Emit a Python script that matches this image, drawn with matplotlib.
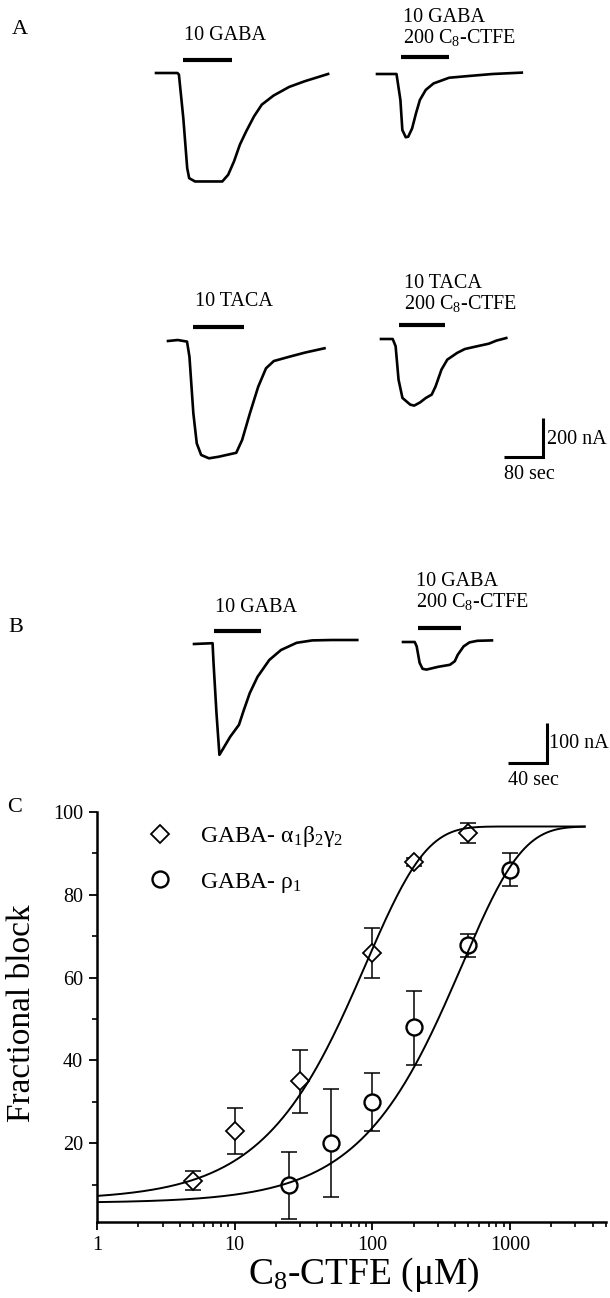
import numpy as np
import matplotlib.pyplot as plt
from matplotlib.lines import Line2D
from matplotlib.ticker import LogLocator, MultipleLocator, NullFormatter

plt.rcParams['font.family'] = ['Liberation Serif', 'DejaVu Serif']
plt.rcParams['mathtext.default'] = 'regular'

# ---- panel A traces: time (s) and current (nA) ----
a_gaba_t = [0, 44, 47, 56, 64, 68, 80, 136, 148, 160, 172, 185, 201, 217, 241, 273, 305, 353]
a_gaba_i = [0, 0, -8, -229, -484, -535, -552, -552, -518, -450, -365, -297, -221, -161, -115, -71, -42, -5]

a_gaba_ctfe_t = [0, 40, 48, 52, 59, 64, 72, 80, 88, 100, 116, 148, 189, 237, 297]
a_gaba_ctfe_i = [0, 0, -132, -285, -322, -319, -277, -200, -132, -81, -48, -19, -10, 0, 7]

a_taca_t = [0, 20, 39, 44, 52, 59, 68, 84, 104, 120, 140, 152, 168, 185, 201, 217, 249, 281, 321]
a_taca_i = [0, 5, -3, -80, -368, -521, -580, -597, -589, -580, -569, -504, -368, -233, -139, -102, -80, -59, -37]

a_taca_ctfe_t = [0, 24, 30, 36, 44, 60, 68, 80, 92, 104, 112, 124, 136, 156, 172, 197, 221, 237, 257]
a_taca_ctfe_i = [0, 0, -37, -207, -300, -334, -339, -323, -300, -283, -241, -156, -105, -71, -51, -37, -24, -8, 5]

# ---- panel B traces ----
b_gaba_t = [0, 19, 20, 23, 26, 29, 37, 46, 51, 57, 65, 77, 89, 105, 121, 141, 167]
b_gaba_i = [0, 2, -48, -173, -277, -265, -232, -202, -165, -123, -82, -40, -15, 3, 9, 10, 10]

b_gaba_ctfe_t = [0, 12, 14, 17, 20, 24, 36, 48, 53, 56, 62, 68, 76, 91]
b_gaba_ctfe_i = [0, 0, -11, -52, -67, -69, -62, -57, -48, -32, -11, -1, 3, 4]

# drug application bars: (start after trace start, duration) in s
a_bars = [(56, 100), (50, 98), (52, 104), (36, 96)]
b_bars = [(20, 49), (15, 44)]

# scale bars (s, nA)
a_scale = (80, 200)
b_scale = (40, 100)

# ---- panel C: fractional block ----
conc_ab = [5, 10, 30, 100, 200, 500]
block_ab = [11, 23, 35, 66, 88, 95]
err_ab_lo = [2.3, 5.6, 7.6, 6.0, 1.0, 2.6]
err_ab_hi = [2.3, 5.6, 7.5, 6.0, 1.0, 2.3]

conc_rho = [25, 50, 100, 200, 500, 1000]
block_rho = [10, 20, 30, 48, 68, 86]
err_rho_lo = [8.2, 13, 7.1, 9, 3.1, 3.9]
err_rho_hi = [7.8, 13, 7.0, 8.7, 2.6, 4.0]

# fitted curves: bottom, top, K (uM)
fit_ab = (6.3, 96.5, 90.0)
fit_rho = (5.6, 96.5, 450.0)

xticks = [1, 10, 100, 1000]
yticks = [20, 40, 60, 80, 100]

W, H = 610, 1298
fig = plt.figure(figsize=(W / 100, H / 100), dpi=100)
LABEL_FS = 14.5


def px_text(x, y, s, fs=LABEL_FS, ha='left'):
    fig.text(x / W, 1 - y / H, s, fontsize=fs, ha=ha, va='center')


def trace_axes(top, bottom, sx, sy):
    ax = fig.add_axes([0, 1 - bottom / H, 1, (bottom - top) / H])
    ax.set_xlim(0, W * sx)
    ax.set_ylim(-bottom * sy, -top * sy)
    ax.axis('off')
    return ax


def draw_trace(ax, sx, sy, x0, y0, t, cur, bar, bar_dy):
    t0, c0 = x0 * sx, -y0 * sy
    ax.plot(np.array(t) + t0, np.array(cur) + c0, color='k', lw=1.9,
            solid_joinstyle='round')
    start, dur = bar
    ax.plot([t0 + start, t0 + start + dur], [c0 + bar_dy * sy] * 2,
            color='k', lw=3, solid_capstyle='butt')


def scale_bar(ax, sx, sy, xc, yc, scale):
    t_len, i_len = scale
    x, y = xc * sx, -yc * sy
    ax.plot([x - t_len, x, x], [y, y, y + i_len], color='k', lw=2.2,
            solid_joinstyle='miter', solid_capstyle='butt')


# ---- panel A ----
sxa, sya = a_scale[0] / 39.0, a_scale[1] / 39.3
axa = trace_axes(0, 520, sxa, sya)
draw_trace(axa, sxa, sya, 156, 73, a_gaba_t, a_gaba_i, a_bars[0], 13)
draw_trace(axa, sxa, sya, 377, 74, a_gaba_ctfe_t, a_gaba_ctfe_i, a_bars[1], 17)
draw_trace(axa, sxa, sya, 168, 341, a_taca_t, a_taca_i, a_bars[2], 14)
draw_trace(axa, sxa, sya, 381, 339, a_taca_ctfe_t, a_taca_ctfe_i, a_bars[3], 14)
scale_bar(axa, sxa, sya, 543, 457, a_scale)

# ---- panel B ----
sxb, syb = b_scale[0] / 39.1, b_scale[1] / 40.0
axb = trace_axes(560, 800, sxb, syb)
draw_trace(axb, sxb, syb, 194, 644, b_gaba_t, b_gaba_i, b_bars[0], 13)
draw_trace(axb, sxb, syb, 403, 642, b_gaba_ctfe_t, b_gaba_ctfe_i, b_bars[1], 14)
scale_bar(axb, sxb, syb, 547, 763, b_scale)

# trace labels
px_text(20, 30, 'A', fs=16, ha='center')
px_text(184, 35, '10 GABA')
px_text(403, 17, '10 GABA')
px_text(403, 37, '200 C$_8$-CTFE')
px_text(195, 302, '10 TACA')
px_text(404, 284, '10 TACA')
px_text(404, 304, '200 C$_8$-CTFE')
px_text(547, 439, '%d nA' % a_scale[1])
px_text(504, 475, '%d sec' % a_scale[0])

px_text(16, 627, 'B', fs=16, ha='center')
px_text(215, 608, '10 GABA')
px_text(416, 581, '10 GABA')
px_text(416, 601, '200 C$_8$-CTFE')
px_text(549, 744, '%d nA' % b_scale[1])
px_text(508, 780, '%d sec' % b_scale[0])

px_text(15, 807, 'C', fs=16, ha='center')

# ---- panel C ----
axc = fig.add_axes([97 / W, 1 - 1222 / H, (606 - 97) / W, (1222 - 812) / H])
axc.set_xscale('log')
axc.set_xlim(1, 5000)
axc.set_ylim(1, 100)

axc.errorbar(conc_ab, block_ab, yerr=[err_ab_lo, err_ab_hi], fmt='none',
             ecolor='k', elinewidth=1.1, capsize=5.5, capthick=1.1, zorder=1)
axc.errorbar(conc_rho, block_rho, yerr=[err_rho_lo, err_rho_hi], fmt='none',
             ecolor='k', elinewidth=1.1, capsize=5.5, capthick=1.1, zorder=1)
axc.plot(conc_ab, block_ab, 'D', ms=8.8, mfc='white', mec='k', mew=1.3, zorder=2)
axc.plot(conc_rho, block_rho, 'o', ms=11.5, mfc='white', mec='k', mew=1.7, zorder=2)

xf = np.logspace(0, np.log10(3500), 300)
for b, t, k in (fit_ab, fit_rho):
    axc.plot(xf, b + (t - b) * (1 - np.exp(-xf / k)), color='k', lw=1.4, zorder=3)

for side in ('top', 'right'):
    axc.spines[side].set_visible(False)
for side in ('left', 'bottom'):
    axc.spines[side].set_linewidth(1.8)

axc.set_xticks(xticks)
axc.set_xticklabels([str(v) for v in xticks])
axc.xaxis.set_minor_locator(LogLocator(base=10, subs=range(2, 10)))
axc.xaxis.set_minor_formatter(NullFormatter())
axc.set_yticks(yticks)
axc.set_yticklabels([str(v) for v in yticks])
axc.yaxis.set_minor_locator(MultipleLocator(10))
axc.tick_params(which='major', direction='out', length=6, width=1.3,
                labelsize=LABEL_FS, pad=4)
axc.tick_params(which='minor', direction='out', length=3.5, width=1.2)

axc.set_ylabel('Fractional block', fontsize=24)
axc.yaxis.label.set_va('center')
axc.yaxis.set_label_coords(-0.147, 0.51)
axc.set_xlabel('C$_8$-CTFE (\u03bcM)', fontsize=27)
axc.xaxis.label.set_va('center')
axc.xaxis.set_label_coords(0.524, -0.13)

handles = [
    Line2D([], [], ls='none', marker='D', ms=8.8, mfc='white', mec='k', mew=1.3),
    Line2D([], [], ls='none', marker='o', ms=11.5, mfc='white', mec='k', mew=1.7),
]
axc.legend(handles, ['GABA- \u03b1$_1$\u03b2$_2$\u03b3$_2$', 'GABA- \u03c1$_1$'],
           loc='upper left', bbox_to_anchor=(0.1, 0.97), frameon=False,
           fontsize=17, handlelength=1.0, handletextpad=1.2, labelspacing=0.9,
           borderpad=0, borderaxespad=0)

fig.savefig('out.png', dpi=100)
